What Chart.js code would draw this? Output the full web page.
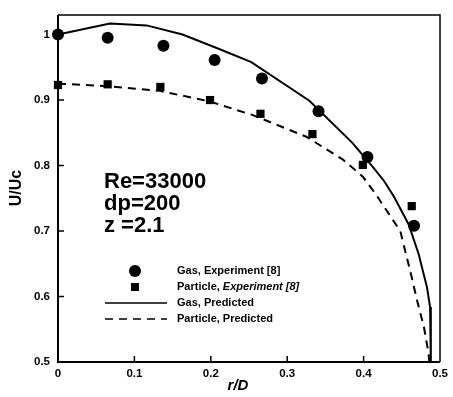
<!DOCTYPE html>
<html><head><meta charset="utf-8">
<script src="https://cdn.jsdelivr.net/npm/chart.js@4/dist/chart.umd.min.js"></script>
<style>html,body{margin:0;padding:0;background:#fff}#wrap{width:453px;height:397px}</style>
</head><body><div id="wrap"><canvas id="c" width="453" height="397"></canvas></div>
<script>
const gasExpR = [0, 0.065, 0.138, 0.205, 0.267, 0.341, 0.405, 0.466];
const gasExpU = [1.0, 0.995, 0.983, 0.961, 0.933, 0.883, 0.813, 0.708];
const partExpR = [0, 0.065, 0.134, 0.199, 0.265, 0.333, 0.399, 0.463];
const partExpU = [0.923, 0.924, 0.920, 0.900, 0.879, 0.848, 0.801, 0.738];
const gasPredR = [0, 0.068, 0.116, 0.163, 0.211, 0.253, 0.329, 0.385, 0.412, 0.427, 0.44, 0.459, 0.472, 0.483, 0.487, 0.488, 0.488];
const gasPredU = [1.0, 1.017, 1.014, 1.0, 0.978, 0.958, 0.899, 0.835, 0.798, 0.776, 0.752, 0.710, 0.665, 0.614, 0.584, 0.54, 0.5];
const partPredR = [0, 0.068, 0.133, 0.198, 0.255, 0.325, 0.373, 0.399, 0.416, 0.448, 0.461, 0.470, 0.479, 0.485, 0.486];
const partPredU = [0.925, 0.921, 0.914, 0.898, 0.877, 0.844, 0.809, 0.783, 0.756, 0.70, 0.639, 0.594, 0.553, 0.513, 0.5];
const xTicks = [0, 0.1, 0.2, 0.3, 0.4, 0.5];
const yTicks = [0.5, 0.6, 0.7, 0.8, 0.9, 1.0];
const legendLabels = ['Gas, Experiment [8]', 'Particle, Experiment [8]', 'Gas, Predicted', 'Particle, Predicted'];
const annotLines = ['Re=33000', 'dp=200', 'z =2.1'];

const pts = (xs, ys) => xs.map((x, i) => ({x: x, y: ys[i]}));
const FONT = '"Liberation Sans", Arial, sans-serif';

const decor = {
  id: 'decor',
  afterDraw(chart) {
    const ctx = chart.ctx, a = chart.chartArea;
    const xs = chart.scales.x, ys = chart.scales.y;
    ctx.save();
    ctx.strokeStyle = '#000';
    // frame
    ctx.lineWidth = 1.5;
    ctx.beginPath();
    ctx.moveTo(a.left, a.top); ctx.lineTo(a.right, a.top); ctx.lineTo(a.right, a.bottom);
    ctx.stroke();
    ctx.lineWidth = 2;
    ctx.beginPath();
    ctx.moveTo(a.left, a.top); ctx.lineTo(a.left, a.bottom); ctx.lineTo(a.right, a.bottom);
    ctx.stroke();
    // inward ticks
    ctx.lineWidth = 1.5;
    ctx.beginPath();
    xTicks.slice(1, -1).forEach(v => { const p = xs.getPixelForValue(v); ctx.moveTo(p, a.bottom); ctx.lineTo(p, a.bottom - 6); });
    yTicks.slice(1).forEach(v => { const p = ys.getPixelForValue(v); ctx.moveTo(a.left, p); ctx.lineTo(a.left + 6, p); });
    ctx.stroke();
    // axis titles
    ctx.fillStyle = '#000';
    ctx.textAlign = 'center'; ctx.textBaseline = 'middle';
    ctx.font = 'italic bold 15px ' + FONT;
    ctx.fillText('r/D', 238, 386);
    ctx.save();
    ctx.translate(17, 188); ctx.rotate(-Math.PI / 2);
    ctx.font = 'bold 16px ' + FONT;
    ctx.fillText('U/Uc', 0, 0);
    ctx.restore();
    // annotation
    ctx.textAlign = 'left'; ctx.textBaseline = 'alphabetic';
    ctx.font = 'bold 22px ' + FONT;
    annotLines.forEach((t, i) => ctx.fillText(t, 104, 188 + i * 22));
    // legend
    const lx = 177, ly = [271, 287, 303, 319];
    ctx.beginPath(); ctx.arc(135, ly[0], 6, 0, Math.PI * 2); ctx.fill();
    ctx.fillRect(131, ly[1] - 4, 8, 8);
    ctx.lineWidth = 1.5;
    ctx.beginPath(); ctx.moveTo(105, ly[2]); ctx.lineTo(167, ly[2]); ctx.stroke();
    ctx.setLineDash([8, 6]);
    ctx.beginPath(); ctx.moveTo(105, ly[3]); ctx.lineTo(167, ly[3]); ctx.stroke();
    ctx.setLineDash([]);
    ctx.textBaseline = 'middle';
    ctx.font = 'bold 11px ' + FONT;
    ctx.fillText(legendLabels[0], lx, ly[0]);
    const pre = 'Particle, ';
    ctx.fillText(pre, lx, ly[1]);
    const w = ctx.measureText(pre).width;
    ctx.font = 'italic bold 11px ' + FONT;
    ctx.fillText(legendLabels[1].slice(pre.length), lx + w, ly[1]);
    ctx.font = 'bold 11px ' + FONT;
    ctx.fillText(legendLabels[2], lx, ly[2]);
    ctx.fillText(legendLabels[3], lx, ly[3]);
    ctx.restore();
  }
};

new Chart(document.getElementById('c'), {
  type: 'scatter',
  data: {
    datasets: [
      {label: legendLabels[2], data: pts(gasPredR, gasPredU), showLine: true, borderColor: '#000', borderWidth: 2, pointRadius: 0, tension: 0, order: 3},
      {label: legendLabels[3], data: pts(partPredR, partPredU), showLine: true, borderColor: '#000', borderWidth: 2, borderDash: [8, 6], pointRadius: 0, tension: 0, order: 4},
      {label: legendLabels[0], data: pts(gasExpR, gasExpU), pointStyle: 'circle', pointRadius: 6, backgroundColor: '#000', borderColor: '#000', borderWidth: 0, order: 1},
      {label: legendLabels[1], data: pts(partExpR, partExpU), pointStyle: 'rect', pointRadius: 5.8, backgroundColor: '#000', borderColor: '#000', borderWidth: 0, order: 2}
    ]
  },
  options: {
    responsive: false,
    devicePixelRatio: 1,
    animation: false,
    clip: false,
    layout: {padding: {left: 0, right: 10, top: 12, bottom: 0}},
    plugins: {legend: {display: false}, tooltip: {enabled: false}},
    scales: {
      x: {
        type: 'linear', min: 0, max: 0.5,
        afterBuildTicks: s => { s.ticks = xTicks.map(v => ({value: v})); },
        afterFit: s => { s.height = 35; },
        grid: {display: false, drawTicks: false},
        border: {display: false},
        ticks: {color: '#000', padding: 5, font: {family: FONT, size: 11.5, weight: 'bold'},
          callback: v => v === 0 ? '0' : v.toFixed(1)}
      },
      y: {
        type: 'linear', min: 0.5, max: 1.03,
        afterBuildTicks: s => { s.ticks = yTicks.map(v => ({value: v})); },
        afterFit: s => { s.width = 58; },
        grid: {display: false, drawTicks: false},
        border: {display: false},
        ticks: {color: '#000', padding: 8, font: {family: FONT, size: 11.5, weight: 'bold'},
          callback: v => v === 1 ? '1' : v.toFixed(1)}
      }
    }
  },
  plugins: [decor]
});
</script></body></html>
